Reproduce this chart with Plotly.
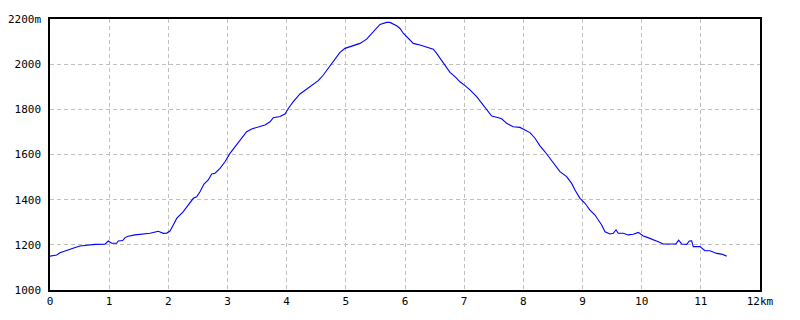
import plotly.graph_objects as go

dist_km = [0, 0.113, 0.169, 0.282, 0.389, 0.507, 0.620, 0.761, 0.930, 0.985, 1.043, 1.127,
           1.154, 1.229, 1.268, 1.323, 1.437, 1.634, 1.690, 1.830, 1.915, 1.972, 2.028, 2.084,
           2.141, 2.253, 2.366, 2.422, 2.479, 2.535, 2.603, 2.675, 2.733, 2.789, 2.873, 2.958,
           3.042, 3.155, 3.240, 3.324, 3.409, 3.520, 3.634, 3.718, 3.774, 3.887, 3.972, 4.027,
           4.112, 4.225, 4.338, 4.450, 4.534, 4.619, 4.703, 4.788, 4.901, 4.986, 5.126, 5.239,
           5.352, 5.464, 5.577, 5.690, 5.746, 5.859, 5.915, 5.971, 6.055, 6.140, 6.253, 6.366,
           6.478, 6.535, 6.620, 6.704, 6.760, 6.845, 6.929, 7.014, 7.098, 7.211, 7.296, 7.380,
           7.465, 7.549, 7.634, 7.718, 7.830, 7.943, 8.028, 8.112, 8.197, 8.281, 8.366, 8.450,
           8.619, 8.732, 8.817, 8.873, 8.957, 9.042, 9.126, 9.211, 9.266, 9.324, 9.380, 9.464,
           9.520, 9.566, 9.604, 9.689, 9.774, 9.858, 9.943, 10.027, 10.095, 10.196, 10.281,
           10.365, 10.534, 10.580, 10.625, 10.676, 10.761, 10.805, 10.845, 10.872, 10.985,
           11.070, 11.154, 11.268, 11.352, 11.437]

elevation_m = [1150, 1155, 1165, 1177, 1185, 1195, 1199, 1202, 1203, 1217, 1207, 1207,
               1217, 1219, 1232, 1238, 1244, 1248, 1251, 1260, 1251, 1252, 1261, 1288,
               1317, 1347, 1384, 1406, 1413, 1435, 1469, 1487, 1514, 1517, 1539, 1568,
               1605, 1642, 1672, 1701, 1713, 1723, 1731, 1745, 1763, 1768, 1779, 1804,
               1834, 1868, 1889, 1908, 1927, 1952, 1982, 2011, 2052, 2070, 2081, 2092,
               2111, 2144, 2176, 2185, 2185, 2170, 2158, 2137, 2115, 2092, 2085, 2077,
               2066, 2048, 2018, 1989, 1964, 1945, 1922, 1905, 1886, 1856, 1827, 1797,
               1770, 1765, 1758, 1738, 1723, 1720, 1708, 1697, 1672, 1638, 1612, 1583,
               1524, 1502, 1472, 1443, 1406, 1384, 1354, 1332, 1313, 1288, 1258, 1248,
               1251, 1266, 1251, 1251, 1244, 1247, 1255, 1239, 1233, 1224, 1214,
               1204, 1204, 1204, 1221, 1204, 1202, 1217, 1218, 1192, 1192,
               1174, 1174, 1162, 1159, 1150]

x_tick_vals = list(range(0, 13))
x_tick_text = [str(v) for v in range(0, 12)] + ["12km"]
y_tick_vals = [1000, 1200, 1400, 1600, 1800, 2000, 2200]
y_tick_text = ["1000", "1200", "1400", "1600", "1800", "2000", "2200m"]

fig = go.Figure()
fig.add_trace(go.Scatter(x=dist_km, y=elevation_m, mode="lines",
                         line=dict(color="#0000FF", width=1.1), hoverinfo="skip"))

axis_common = dict(showline=True, linecolor="black", linewidth=1.5, mirror=True,
                   showgrid=True, gridcolor="#C0C0C0", griddash="4px,3px", gridwidth=1,
                   zeroline=False, ticks="", automargin=False,
                   tickfont=dict(color="black", size=11, family="DejaVu Sans Mono"))

fig.update_xaxes(range=[0, 12], tickvals=x_tick_vals, ticktext=x_tick_text, **axis_common)
fig.update_yaxes(range=[1000, 2200], tickvals=y_tick_vals, ticktext=y_tick_text,
                 ticklabelstandoff=5, **axis_common)

fig.update_layout(width=800, height=320, margin=dict(l=50, r=40, t=19, b=30),
                  plot_bgcolor="white", paper_bgcolor="white", showlegend=False)

fig.write_html("out.html")
